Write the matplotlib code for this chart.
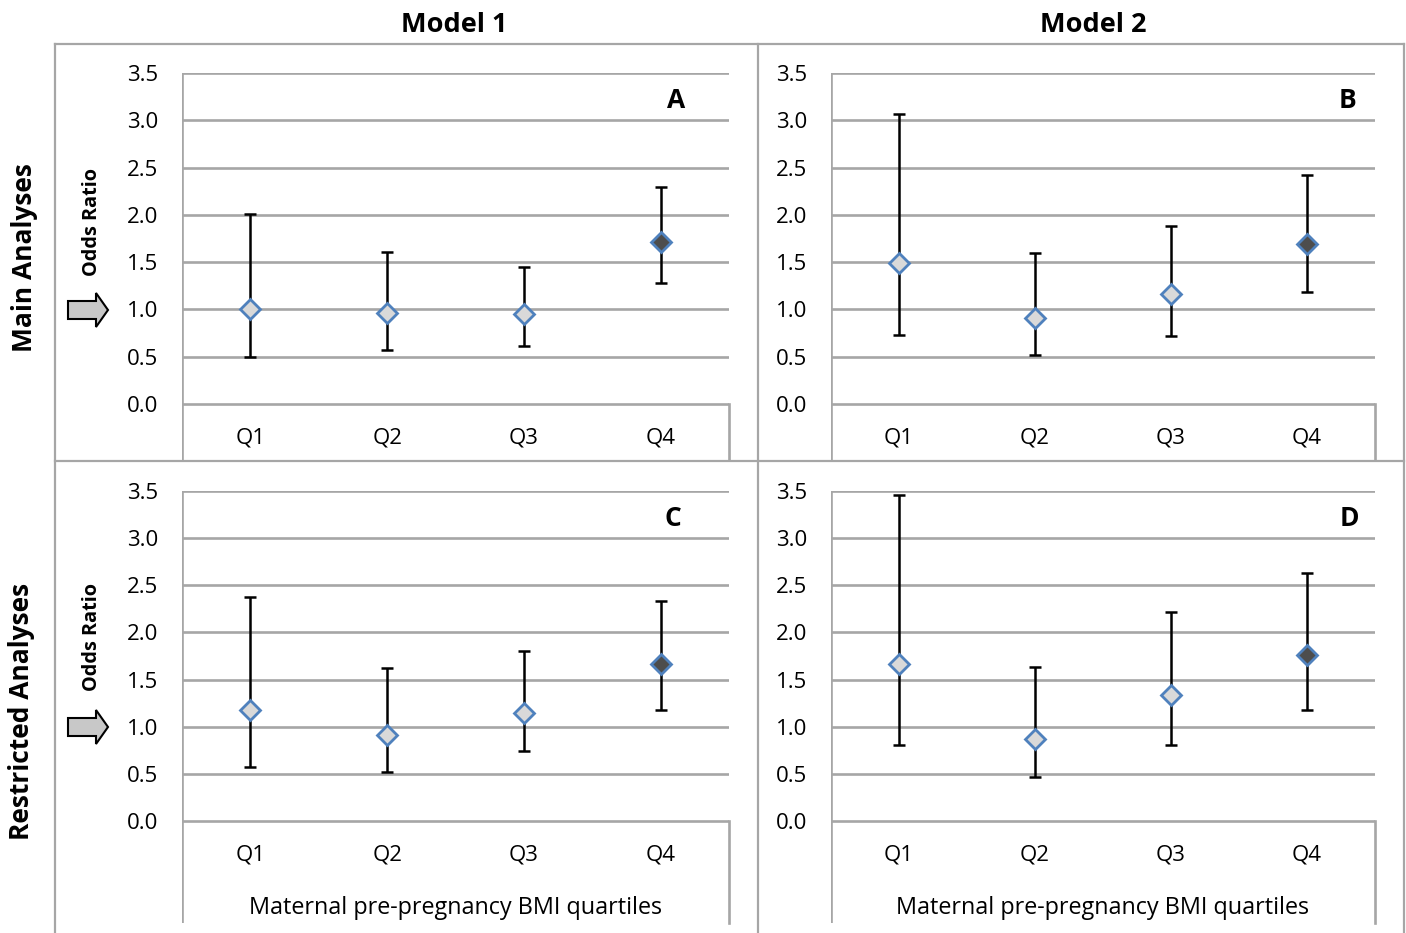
import numpy as np
import matplotlib.pyplot as plt
from matplotlib.lines import Line2D
from matplotlib.patches import Polygon
from matplotlib.transforms import IdentityTransform

plt.rcParams['font.family'] = ['Open Sans', 'DejaVu Sans']

W, H = 1406, 933

quartiles = ['Q1', 'Q2', 'Q3', 'Q4']

# odds ratio, lower CI, upper CI per panel
or_A = [1.00, 0.96, 0.95, 1.71]
lo_A = [0.50, 0.57, 0.61, 1.28]
hi_A = [2.01, 1.61, 1.45, 2.29]

or_B = [1.49, 0.91, 1.16, 1.69]
lo_B = [0.73, 0.52, 0.72, 1.18]
hi_B = [3.07, 1.60, 1.88, 2.42]

or_C = [1.18, 0.91, 1.15, 1.66]
lo_C = [0.57, 0.52, 0.74, 1.18]
hi_C = [2.38, 1.62, 1.80, 2.33]

or_D = [1.66, 0.87, 1.34, 1.76]
lo_D = [0.81, 0.47, 0.81, 1.18]
hi_D = [3.46, 1.63, 2.22, 2.63]

panels = [
    ('A', or_A, lo_A, hi_A),
    ('B', or_B, lo_B, hi_B),
    ('C', or_C, lo_C, hi_C),
    ('D', or_D, lo_D, hi_D),
]

grid_c = '#a6a6a6'
border_c = '#a6a6a6'
edge_blue = '#4f81bd'
light_fill = '#d9d9d9'
dark_fill = '#4d4d4d'

fig = plt.figure(figsize=(W / 100, H / 100), dpi=100)


def fx(px):
    return px / W


def fy(py):
    return 1 - py / H


# pixel boxes: left, right, top(3.5), zero line, bottom, letter x
boxes = [
    (182, 729, 73, 404, 460, 3.61),
    (831, 1375, 73, 404, 460, 3.80),
    (182, 729, 491, 821, 923, 3.59),
    (831, 1375, 491, 821, 923, 3.81),
]

for (letter, orv, lo, hi), (l, r, t, z, b, lx) in zip(panels, boxes):
    ax = fig.add_axes([fx(l), fy(b), fx(r - l), fy(t) - fy(b)])
    per = (z - t) / 3.5
    ymin = -(b - z) / per
    ax.set_xlim(0, 4)
    ax.set_ylim(ymin, 3.5)
    for s in ax.spines.values():
        s.set_visible(False)
    ax.set_xticks([])
    ax.set_yticks(np.arange(0, 3.51, 0.5))
    ax.set_yticklabels([f'{v:.1f}' for v in np.arange(0, 3.51, 0.5)], fontsize=16)
    ax.tick_params(axis='y', length=0, pad=17)
    for v in np.arange(0, 3.51, 0.5):
        ax.axhline(v, color=grid_c, lw=1.9, zorder=1)
    ax.axvline(0, color=grid_c, lw=1.9, zorder=1)
    ax.plot([4, 4], [ymin, 0], color=grid_c, lw=1.9, zorder=1, clip_on=False)

    x = np.arange(4) + 0.5
    orv = np.array(orv)
    err = [orv - np.array(lo), np.array(hi) - orv]
    ax.errorbar(x, orv, yerr=err, fmt='none', ecolor='black', elinewidth=1.8,
                capsize=4.5, capthick=1.8, zorder=3)
    fills = [light_fill, light_fill, light_fill, dark_fill]
    for xi, yi, fc in zip(x, orv, fills):
        ax.plot(xi, yi, marker='D', ms=10, mfc=fc, mec=edge_blue, mew=2, zorder=4)

    ylab = -(438 - 404) / per
    for xi, q in zip(x, quartiles):
        ax.text(xi, ylab, q, ha='center', va='center', fontsize=16)
    ax.text(lx, 3.21, letter, ha='center', va='center',
            fontsize=19, fontweight='bold')
    if letter in ('C', 'D'):
        ax.text(2, -(908 - 821) / per, 'Maternal pre-pregnancy BMI quartiles',
                ha='center', va='center', fontsize=16.8)

# outer grid borders
for seg in [((55, 1404), (44, 44)), ((55, 1404), (461, 461)),
            ((55, 55), (44, 933)), ((758, 758), (44, 933)), ((1404, 1404), (44, 933))]:
    fig.add_artist(Line2D([fx(seg[0][0]), fx(seg[0][1])], [fy(seg[1][0]), fy(seg[1][1])],
                          color=border_c, lw=1.6))

fig.text(fx(454), fy(25), 'Model 1', ha='center', va='center', fontsize=19.5, fontweight='bold')
fig.text(fx(1093), fy(25), 'Model 2', ha='center', va='center', fontsize=19.5, fontweight='bold')
fig.text(fx(25), fy(258), 'Main Analyses', ha='center', va='center', fontsize=19,
         fontweight='bold', rotation=90)
fig.text(fx(22), fy(711), 'Restricted Analyses', ha='center', va='center', fontsize=19,
         fontweight='bold', rotation=90)
for yc in (222, 637):
    fig.text(fx(92), fy(yc), 'Odds Ratio', ha='center', va='center', fontsize=14.3,
             fontweight='bold', rotation=90)

# block arrows pointing to OR = 1
for yc in (310, 727):
    pts = [(68, yc - 9), (96, yc - 9), (96, yc - 17), (108, yc), (96, yc + 17),
           (96, yc + 9), (68, yc + 9)]
    pts = [(px, H - py) for px, py in pts]
    fig.add_artist(Polygon(pts, closed=True, facecolor='#c8c8c8', edgecolor='black',
                           lw=1.5, transform=IdentityTransform()))

fig.savefig('out.png', dpi=100)
